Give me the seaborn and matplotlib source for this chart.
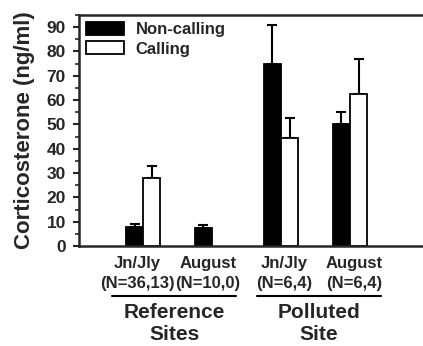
import numpy as np
import pandas as pd
import matplotlib
matplotlib.use("Agg")
import matplotlib.pyplot as plt
import matplotlib.transforms as mtransforms
from matplotlib.ticker import MultipleLocator
import seaborn as sns

# ── Datos ────────────────────────────────────────────────────────────────────
GRUPOS = ["Jn/Jly\n(N=36,13)", "August\n(N=10,0)", "Jn/Jly\n(N=6,4)", "August\n(N=6,4)"]
NO_CANTA = [7.9, 7.5, 74.7, 50.0]
NO_CANTA_SE = [1.1, 1.1, 16.1, 5.2]
CANTA = [27.8, np.nan, 44.5, 62.6]
CANTA_SE = [5.1, np.nan, 8.1, 14.1]
SITIOS = ["Reference\nSites", "Polluted\nSite"]

df = pd.concat([
    pd.DataFrame({"grupo": GRUPOS, "valor": NO_CANTA, "se": NO_CANTA_SE, "estado": "Non-calling"}),
    pd.DataFrame({"grupo": GRUPOS, "valor": CANTA, "se": CANTA_SE, "estado": "Calling"}),
]).dropna()

sns.set_style("ticks")
plt.rcParams["font.family"] = ["Liberation Sans", "DejaVu Sans"]
plt.rcParams["font.weight"] = "bold"

fig = plt.figure(figsize=(4.23, 3.46), dpi=100)
ax = fig.add_axes([0.187, 0.289, 0.813, 0.668])

sns.barplot(data=df, x="grupo", y="valor", hue="estado", order=GRUPOS,
            hue_order=["Non-calling", "Calling"],
            palette={"Non-calling": "black", "Calling": "white"},
            edgecolor="black", linewidth=1.3, width=0.5, errorbar=None, ax=ax)

# barras de error (solo hacia arriba)
for cont, estado in zip(ax.containers, ["Non-calling", "Calling"]):
    sub = df[df["estado"] == estado]
    xs = [b.get_x() + b.get_width() / 2 for b in cont]
    ys = [b.get_height() for b in cont]
    se = sub["se"].to_numpy()
    ax.errorbar(xs, ys, yerr=[np.zeros_like(se), se], fmt="none",
                ecolor="black", elinewidth=1.5, capsize=3.5, capthick=1.5, zorder=0)

ax.set_xlim(-0.93, 4.06)
ax.set_ylim(0, 95)
ax.yaxis.set_major_locator(MultipleLocator(10))
ax.yaxis.set_minor_locator(MultipleLocator(5))
ax.tick_params(axis="y", which="major", length=4.5, width=1.5, labelsize=12.5, pad=5)
ax.tick_params(axis="y", which="minor", length=3, width=1.2)
ax.tick_params(axis="x", length=0, labelsize=12, pad=7)
for lab in ax.get_xticklabels() + ax.get_yticklabels():
    lab.set_fontweight("bold")
# pequeño desplazamiento horizontal de las etiquetas, como en el original
for lab, dx in zip(ax.get_xticklabels(), [-6, -4, 3, 4]):
    lab.set_linespacing(1.4)
    lab.set_transform(lab.get_transform() + mtransforms.ScaledTranslation(dx / 100, 0, fig.dpi_scale_trans))
ax.set_xlabel("")
ax.set_ylabel("Corticosterone (ng/ml)", fontsize=16, fontweight="bold", labelpad=8)

for lado in ["left", "bottom", "top"]:
    ax.spines[lado].set_linewidth(1.8)
ax.spines["right"].set_visible(False)

# etiquetas de sitio con subrayado
trans = mtransforms.blended_transform_factory(ax.transData, ax.transAxes)
for (x0, x1), centro, sitio in zip([(-0.45, 1.35), (1.65, 3.45)], [0.45, 2.55], SITIOS):
    ax.plot([x0, x1], [-0.218, -0.218], color="black", lw=1.5, transform=trans, clip_on=False)
    ax.text(centro, -0.335, sitio, transform=trans, ha="center", va="center",
            fontsize=15, fontweight="bold", linespacing=1.15)

leg = ax.legend(loc="upper left", frameon=False, fontsize=12, handlelength=2.3,
                handleheight=0.85, borderaxespad=0.1, borderpad=0.3, labelspacing=0.25,
                handletextpad=0.7, bbox_to_anchor=(0.0, 1.0))
for t in leg.get_texts():
    t.set_fontweight("bold")

fig.savefig("out.png", dpi=100)
